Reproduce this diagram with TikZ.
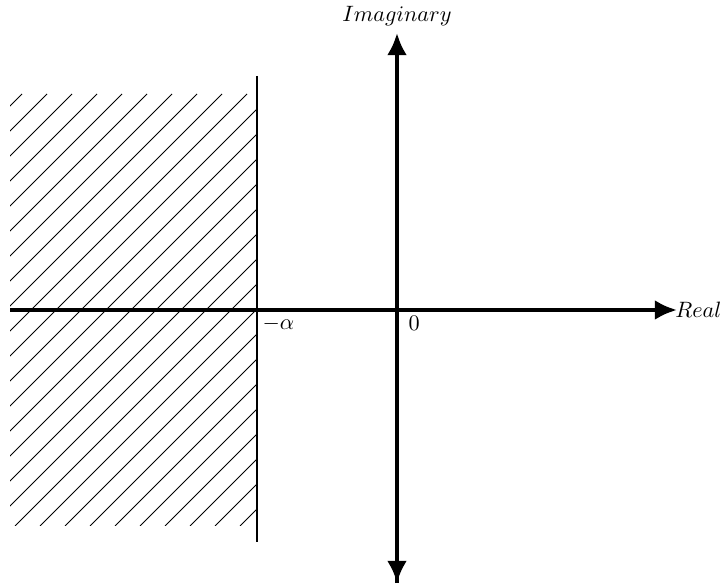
\documentclass[tikz,border=0pt]{standalone}
\usetikzlibrary{arrows.meta}
\begin{document}
\begin{tikzpicture}[x=0.45pt,y=-0.45pt,
  axis/.style={line width=1.8pt,-{Latex[length=10pt,width=9pt]}},
  bound/.style={line width=0.9pt},
  hatch/.style={line width=0.45pt},
  lbl/.style={inner sep=1pt}]
\useasboundingbox (0,0) rectangle (723,585);
% hatching
\begin{scope}
\clip (10,94) rectangle (256,526);
\foreach \c in {116,141,...,791}
  \draw[hatch] (\c-94,94) -- (\c-526,526);
\end{scope}
% boundary line at -alpha
\coordinate (bt) at (257,76);
\coordinate (bb) at (257,542);
\draw[bound] (bt) -- (bb);
% axes
\coordinate (o) at (397,310);
\coordinate (xl) at (10,310);
\coordinate (xr) at (677,310);
\coordinate (yt) at (397,33);
\coordinate (yb) at (397,583);
\draw[axis] (xl) -- (xr);
\draw[axis] (yb) -- (yt);
\draw[axis] (o) -- (yb);
% labels
\node[inner sep=0pt,anchor=east] (real) at (722,310) {$Real$};
\node[lbl,anchor=south] (imag) at (397,28) {$Imaginary$};
\node[lbl,anchor=north west] (alpha) at (260,314) {$-\alpha$};
\node[lbl,anchor=north west] (zero) at (406,314) {$0$};
\end{tikzpicture}
\end{document}
